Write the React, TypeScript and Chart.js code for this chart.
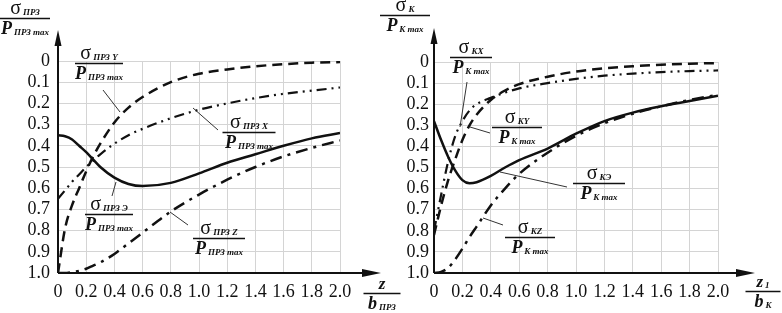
import React, { useEffect, useRef } from 'react';
import { Chart, registerables } from 'chart.js';

Chart.register(...registerables);

// ---------- data ----------
const xValues = [0, 0.05, 0.1, 0.15, 0.2, 0.25, 0.3, 0.4, 0.5, 0.6, 0.8, 1.0, 1.2, 1.4, 1.6, 1.8, 2.0];

const xTickLabels = ['0', '0.2', '0.4', '0.6', '0.8', '1.0', '1.2', '1.4', '1.6', '1.8', '2.0'];
const yTickLabels = ['0', '0.1', '0.2', '0.3', '0.4', '0.5', '0.6', '0.7', '0.8', '0.9', '1.0'];

// left chart (ПРЗ)
const przE = [0.35, 0.355, 0.37, 0.4, 0.43, 0.465, 0.5, 0.55, 0.58, 0.59, 0.575, 0.53, 0.48, 0.44, 0.4, 0.365, 0.34];
const przY = [1.0, 0.79, 0.68, 0.6, 0.52, 0.45, 0.39, 0.29, 0.22, 0.17, 0.1, 0.06, 0.04, 0.025, 0.015, 0.008, 0.005];
const przX = [0.65, 0.61, 0.57, 0.535, 0.5, 0.47, 0.44, 0.39, 0.35, 0.32, 0.27, 0.23, 0.2, 0.175, 0.155, 0.14, 0.125];
const przZ = [1.0, 1.0, 0.995, 0.99, 0.98, 0.965, 0.95, 0.91, 0.86, 0.81, 0.71, 0.63, 0.56, 0.5, 0.45, 0.41, 0.375];

// right chart (К)
const kE = [0.28, 0.37, 0.45, 0.515, 0.56, 0.575, 0.57, 0.54, 0.5, 0.465, 0.41, 0.34, 0.28, 0.24, 0.21, 0.185, 0.16];
const kDashed = [0.82, 0.68, 0.56, 0.46, 0.37, 0.3, 0.25, 0.18, 0.135, 0.105, 0.07, 0.045, 0.03, 0.02, 0.013, 0.008, 0.005];
const kDashDotDot = [0.8, 0.63, 0.47, 0.35, 0.28, 0.23, 0.2, 0.17, 0.145, 0.125, 0.1, 0.08, 0.065, 0.055, 0.048, 0.043, 0.04];
const kZ = [1.0, 0.995, 0.975, 0.935, 0.885, 0.83, 0.78, 0.68, 0.6, 0.53, 0.43, 0.35, 0.29, 0.245, 0.21, 0.18, 0.155];

// ---------- styles ----------
const FONT = '"Liberation Serif", "DejaVu Serif", serif';
const INK = '#111';
const SOLID: number[] = [];
const DASHED = [10, 6];
const DASH_DOT_DOT = [10, 5, 2, 5, 2, 5];
const DASH_DOT = [12, 6, 3, 6];

function pts(ys: number[]) {
  return xValues.map((x, i) => ({ x, y: ys[i] }));
}

function ds(ys: number[], dash: number[], width: number) {
  return {
    data: pts(ys),
    borderColor: INK,
    borderWidth: width,
    borderDash: dash,
    pointRadius: 0,
    fill: false,
    cubicInterpolationMode: 'monotone' as const,
  };
}

type Frac = {
  cx: number; ly: number; w: number;
  nMain: string; nSub: string; dMain: string; dSub: string;
  axis?: boolean;
};

function drawFrac(ctx: CanvasRenderingContext2D, f: Frac) {
  ctx.save();
  ctx.fillStyle = INK;
  ctx.strokeStyle = INK;
  ctx.lineWidth = 1.3;
  ctx.beginPath();
  ctx.moveTo(f.cx - f.w / 2, f.ly + 0.5);
  ctx.lineTo(f.cx + f.w / 2, f.ly + 0.5);
  ctx.stroke();
  ctx.textBaseline = 'alphabetic';
  ctx.textAlign = 'left';

  const numFont = f.axis ? `bold italic 17px ${FONT}` : `20px ${FONT}`;
  const denFont = `bold italic 18px ${FONT}`;
  const subFont = `bold italic 9px ${FONT}`;

  // numerator
  ctx.font = numFont;
  const wn = ctx.measureText(f.nMain).width;
  ctx.font = subFont;
  const wns = f.nSub ? ctx.measureText(f.nSub).width + 2 : 0;
  let x0 = f.cx - (wn + wns) / 2;
  ctx.font = numFont;
  ctx.fillText(f.nMain, x0, f.ly - 4);
  if (f.nSub) {
    ctx.font = subFont;
    ctx.fillText(f.nSub, x0 + wn + 2, f.ly - 3);
  }

  // denominator
  ctx.font = denFont;
  const wd = ctx.measureText(f.dMain).width;
  ctx.font = subFont;
  const wds = f.dSub ? ctx.measureText(f.dSub).width + 2 : 0;
  x0 = f.cx - (wd + wds) / 2;
  ctx.font = denFont;
  ctx.fillText(f.dMain, x0, f.ly + 16);
  if (f.dSub) {
    ctx.font = subFont;
    ctx.fillText(f.dSub, x0 + wd + 2, f.ly + 17);
  }
  ctx.restore();
}

function drawPointer(ctx: CanvasRenderingContext2D, x1: number, y1: number, x2: number, y2: number) {
  ctx.save();
  ctx.strokeStyle = '#333';
  ctx.lineWidth = 1;
  ctx.beginPath();
  ctx.moveTo(x1, y1);
  ctx.lineTo(x2, y2);
  ctx.stroke();
  ctx.restore();
}

function drawAxes(chart: any, xTip: number, yTip: number) {
  const ctx: CanvasRenderingContext2D = chart.ctx;
  const xs = chart.scales.x;
  const ys = chart.scales.y;
  const ox = xs.getPixelForValue(0);
  const oy = ys.getPixelForValue(1);
  ctx.save();
  ctx.strokeStyle = INK;
  ctx.fillStyle = INK;
  ctx.lineWidth = 2;
  ctx.beginPath();
  ctx.moveTo(ox, oy);
  ctx.lineTo(xTip - 10, oy);
  ctx.moveTo(ox, oy);
  ctx.lineTo(ox, yTip + 8);
  ctx.stroke();
  // x arrow
  ctx.beginPath();
  ctx.moveTo(xTip, oy);
  ctx.lineTo(xTip - 19, oy - 4);
  ctx.lineTo(xTip - 19, oy + 4);
  ctx.closePath();
  ctx.fill();
  // y arrow
  ctx.beginPath();
  ctx.moveTo(ox, yTip);
  ctx.lineTo(ox - 3.5, yTip + 16);
  ctx.lineTo(ox + 3.5, yTip + 16);
  ctx.closePath();
  ctx.fill();
  ctx.restore();
}

type Side = {
  series: { ys: number[]; dash: number[]; width: number }[];
  padTop: number; padRight: number; yWidth: number; yPad: number;
  xTip: number; yTip: number;
  fracs: Frac[];
  pointers: number[][];
};

const leftSide: Side = {
  series: [
    { ys: przY, dash: DASHED, width: 2.5 },
    { ys: przX, dash: DASH_DOT_DOT, width: 2.2 },
    { ys: przZ, dash: DASH_DOT, width: 2.5 },
    { ys: przE, dash: SOLID, width: 2.5 },
  ],
  padTop: 61, padRight: 442, yWidth: 58, yPad: 8,
  xTip: 381, yTip: 30,
  fracs: [
    { cx: 25, ly: 18, w: 50, nMain: 'σ', nSub: 'ПРЗ', dMain: 'P', dSub: 'ПРЗ max' },
    { cx: 99, ly: 63, w: 48, nMain: 'σ', nSub: 'ПРЗ Y', dMain: 'P', dSub: 'ПРЗ max' },
    { cx: 249, ly: 132, w: 53, nMain: 'σ', nSub: 'ПРЗ X', dMain: 'P', dSub: 'ПРЗ max' },
    { cx: 109, ly: 214, w: 48, nMain: 'σ', nSub: 'ПРЗ Э', dMain: 'P', dSub: 'ПРЗ max' },
    { cx: 219, ly: 238, w: 52, nMain: 'σ', nSub: 'ПРЗ Z', dMain: 'P', dSub: 'ПРЗ max' },
    { cx: 382, ly: 293, w: 37, nMain: 'z', nSub: '', dMain: 'b', dSub: 'ПРЗ', axis: true },
  ],
  pointers: [
    [103, 90, 120, 112],
    [218, 130, 193, 108],
    [112, 196, 116, 182],
    [188, 225, 170, 212],
  ],
};

const rightSide: Side = {
  series: [
    { ys: kDashed, dash: DASHED, width: 2.5 },
    { ys: kDashDotDot, dash: DASH_DOT_DOT, width: 2.2 },
    { ys: kZ, dash: DASH_DOT, width: 2.5 },
    { ys: kE, dash: SOLID, width: 2.5 },
  ],
  padTop: 62, padRight: 64, yWidth: 434, yPad: 5,
  xTip: 755, yTip: 28,
  fracs: [
    { cx: 405, ly: 15, w: 50, nMain: 'σ', nSub: 'K', dMain: 'P', dSub: 'K max' },
    { cx: 471, ly: 57, w: 42, nMain: 'σ', nSub: 'KX', dMain: 'P', dSub: 'K max' },
    { cx: 517, ly: 127, w: 50, nMain: 'σ', nSub: 'KY', dMain: 'P', dSub: 'K max' },
    { cx: 599, ly: 183, w: 52, nMain: 'σ', nSub: 'KЭ', dMain: 'P', dSub: 'K max' },
    { cx: 530, ly: 237, w: 50, nMain: 'σ', nSub: 'KZ', dMain: 'P', dSub: 'K max' },
    { cx: 763, ly: 291, w: 35, nMain: 'z', nSub: '1', dMain: 'b', dSub: 'K', axis: true },
  ],
  pointers: [
    [467, 82, 460, 127],
    [490, 133, 470, 127],
    [567, 187, 500, 172],
    [503, 225, 483, 218],
  ],
};

function makeChart(canvas: HTMLCanvasElement, side: Side) {
  const overlay = {
    id: 'overlay',
    afterDraw(chart: any) {
      const ctx: CanvasRenderingContext2D = chart.ctx;
      drawAxes(chart, side.xTip, side.yTip);
      side.pointers.forEach((p) => drawPointer(ctx, p[0], p[1], p[2], p[3]));
      side.fracs.forEach((f) => drawFrac(ctx, f));
    },
  };
  return new Chart(canvas, {
    type: 'line',
    data: {
      datasets: side.series.map((s) => ds(s.ys, s.dash, s.width)) as any,
    },
    options: {
      animation: false,
      responsive: false,
      devicePixelRatio: 1,
      layout: { padding: { top: side.padTop, right: side.padRight, left: 0, bottom: 0 } },
      plugins: { legend: { display: false }, tooltip: { enabled: false } },
      scales: {
        x: {
          type: 'linear',
          min: 0,
          max: 2,
          grid: { color: '#d4d4d4', lineWidth: 1, drawTicks: false },
          border: { display: false },
          ticks: {
            stepSize: 0.2,
            padding: 8,
            autoSkip: false,
            maxRotation: 0,
            color: '#111',
            font: { family: FONT, size: 18 },
            callback: (v: any) => xTickLabels[Math.round(Number(v) * 5)],
          },
          afterFit: (s: any) => { s.height = 40; },
        },
        y: {
          type: 'linear',
          reverse: true,
          min: 0,
          max: 1,
          grid: { color: '#d4d4d4', lineWidth: 1, drawTicks: false },
          border: { display: false },
          ticks: {
            stepSize: 0.1,
            padding: side.yPad,
            autoSkip: false,
            color: '#111',
            font: { family: FONT, size: 18 },
            callback: (v: any) => yTickLabels[Math.round(Number(v) * 10)],
          },
          afterFit: (s: any) => { s.width = side.yWidth; },
        },
      },
    } as any,
    plugins: [overlay],
  });
}

export default function App() {
  const leftRef = useRef<HTMLCanvasElement>(null);
  const rightRef = useRef<HTMLCanvasElement>(null);

  useEffect(() => {
    const a = makeChart(leftRef.current!, leftSide);
    const b = makeChart(rightRef.current!, rightSide);
    return () => {
      a.destroy();
      b.destroy();
    };
  }, []);

  const cs: React.CSSProperties = { position: 'absolute', left: 0, top: 0, width: 782, height: 313 };
  return (
    <div style={{ position: 'fixed', left: 0, top: 0, width: 782, height: 313, background: '#fff' }}>
      <canvas ref={leftRef} width={782} height={313} style={cs} />
      <canvas ref={rightRef} width={782} height={313} style={cs} />
    </div>
  );
}
